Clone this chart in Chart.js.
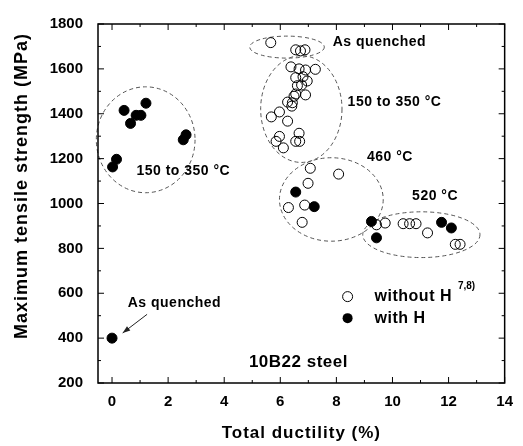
<!DOCTYPE html>
<html>
<head>
<meta charset="utf-8">
<script src="https://cdn.jsdelivr.net/npm/chart.js@4"></script>
<style>
  html, body { margin: 0; padding: 0; background: #fff; }
</style>
</head>
<body>
<canvas id="c" width="523" height="446"></canvas>
<script>
// total ductility (%) / maximum tensile strength (MPa)
const withoutHX = [5.66, 6.55, 6.72, 6.88,
  6.38, 6.67, 6.90, 7.25, 6.55, 6.81, 6.96, 6.61, 6.76, 6.55, 6.49, 6.90,
  6.26, 6.43, 6.41, 5.97, 5.68, 6.26, 5.97, 5.85, 6.11, 6.67, 6.55, 6.69,
  7.07, 8.08, 6.99, 6.29, 6.87, 6.78,
  9.43, 9.74, 10.38, 10.61, 10.84, 11.25, 12.24, 12.41];
const withoutHY = [1717, 1685, 1680, 1685,
  1609, 1600, 1595, 1598, 1561, 1565, 1546, 1525, 1528, 1488, 1478, 1484,
  1452, 1449, 1434, 1408, 1386, 1367, 1299, 1277, 1248, 1313, 1277, 1277,
  1157, 1131, 1090, 982, 993, 916,
  905, 913, 910, 910, 910, 869, 818, 818];

const withHX = [0.00, 0.02, 0.16, 0.43, 0.66, 0.86, 1.03, 1.21, 2.54, 2.64,
  6.55, 7.21, 9.25, 9.43, 11.75, 12.10];
const withHY = [400, 1163, 1197, 1415, 1357, 1393, 1393, 1447, 1284, 1306,
  1051, 986, 920, 847, 916, 891];

const xTicks = [0, 2, 4, 6, 8, 10, 12, 14];
const yTicks = [200, 400, 600, 800, 1000, 1200, 1400, 1600, 1800];

// dashed groups: centre and half-axes in data units
const groups = [
  { cx: 1.20, cy: 1284, rx: 1.76, ry: 236 },
  { cx: 6.24, cy: 1697, rx: 1.33, ry: 49 },
  { cx: 6.75, cy: 1421, rx: 1.45, ry: 238 },
  { cx: 7.82, cy: 1018, rx: 1.85, ry: 186 },
  { cx: 11.03, cy: 861, rx: 2.09, ry: 102 }
];

const notes = [
  { text: 'As quenched', x: 7.87, y: 1717, size: 14 },
  { text: '150 to 350 °C', x: 8.40, y: 1450, size: 14 },
  { text: '460 °C', x: 9.09, y: 1207, size: 14 },
  { text: '520 °C', x: 10.70, y: 1032, size: 14 },
  { text: '150 to 350 °C', x: 0.87, y: 1144, size: 14 },
  { text: 'As quenched', x: 0.56, y: 558, size: 14 },
  { text: '10B22 steel', x: 4.88, y: 292, size: 17 }
];

const FONT = '"Liberation Sans", Arial, Helvetica, sans-serif';

const toPts = (xs, ys) => xs.map((v, i) => ({ x: v, y: ys[i] }));

const decor = {
  id: 'decor',
  beforeDatasetsDraw(chart) {
    const { ctx, scales: { x, y } } = chart;
    ctx.save();
    ctx.setLineDash([4, 3]);
    ctx.strokeStyle = '#555';
    ctx.lineWidth = 1;
    groups.forEach(g => {
      const cx = x.getPixelForValue(g.cx), cy = y.getPixelForValue(g.cy);
      const rx = Math.abs(x.getPixelForValue(g.cx + g.rx) - cx);
      const ry = Math.abs(y.getPixelForValue(g.cy + g.ry) - cy);
      ctx.beginPath();
      ctx.ellipse(cx, cy, rx, ry, 0, 0, Math.PI * 2);
      ctx.stroke();
    });
    ctx.restore();
  },
  afterDraw(chart) {
    const { ctx, chartArea: a, scales: { x, y } } = chart;
    ctx.save();
    // frame
    ctx.strokeStyle = '#000';
    ctx.lineWidth = 1.5;
    ctx.strokeRect(a.left, a.top, a.right - a.left, a.bottom - a.top);
    // inward ticks on all four sides
    ctx.lineWidth = 1;
    ctx.beginPath();
    for (let v = 0; v <= 14; v += 1) {
      const px = x.getPixelForValue(v);
      const len = v % 2 === 0 ? 6 : 3;
      ctx.moveTo(px, a.bottom); ctx.lineTo(px, a.bottom - len);
      ctx.moveTo(px, a.top); ctx.lineTo(px, a.top + len);
    }
    for (let v = 200; v <= 1800; v += 100) {
      const py = y.getPixelForValue(v);
      const len = v % 200 === 0 ? 6 : 3;
      ctx.moveTo(a.left, py); ctx.lineTo(a.left + len, py);
      ctx.moveTo(a.right, py); ctx.lineTo(a.right - len, py);
    }
    ctx.stroke();

    // axis titles
    ctx.fillStyle = '#000';
    ctx.textAlign = 'center';
    ctx.textBaseline = 'middle';
    ctx.font = 'bold 17px ' + FONT;
    ctx.letterSpacing = '1px';
    ctx.fillText('Total ductility (%)', (a.left + a.right) / 2, 433);
    ctx.save();
    ctx.translate(22, 186);
    ctx.rotate(-Math.PI / 2);
    ctx.font = 'bold 18px ' + FONT;
    ctx.fillText('Maximum tensile strength (MPa)', 0, 0);
    ctx.restore();

    // annotations
    ctx.textAlign = 'left';
    ctx.letterSpacing = '0.5px';
    notes.forEach(n => {
      ctx.font = 'bold ' + n.size + 'px ' + FONT;
      ctx.fillText(n.text, x.getPixelForValue(n.x), y.getPixelForValue(n.y));
    });

    // arrow to the as-quenched point
    const x0 = x.getPixelForValue(1.25), y0 = y.getPixelForValue(506);
    const x1 = x.getPixelForValue(0.38), y1 = y.getPixelForValue(423);
    ctx.strokeStyle = '#222';
    ctx.lineWidth = 1;
    ctx.beginPath(); ctx.moveTo(x0, y0); ctx.lineTo(x1, y1); ctx.stroke();
    const ang = Math.atan2(y1 - y0, x1 - x0);
    ctx.beginPath();
    ctx.moveTo(x1, y1);
    ctx.lineTo(x1 - 8 * Math.cos(ang - 0.35), y1 - 8 * Math.sin(ang - 0.35));
    ctx.lineTo(x1 - 8 * Math.cos(ang + 0.35), y1 - 8 * Math.sin(ang + 0.35));
    ctx.closePath();
    ctx.fillStyle = '#222';
    ctx.fill();

    // legend
    const lx = x.getPixelForValue(8.4);
    const ly1 = y.getPixelForValue(585), ly2 = y.getPixelForValue(489);
    ctx.lineWidth = 1;
    ctx.strokeStyle = '#000';
    ctx.beginPath(); ctx.arc(lx, ly1, 5, 0, Math.PI * 2); ctx.stroke();
    ctx.fillStyle = '#000';
    ctx.beginPath(); ctx.arc(lx, ly2, 5, 0, Math.PI * 2); ctx.fill();
    ctx.font = 'bold 16px ' + FONT;
    ctx.fillText('without H', lx + 27, ly1);
    const w = ctx.measureText('without H').width;
    ctx.fillText('with H', lx + 27, ly2);
    ctx.font = 'bold 10px ' + FONT;
    ctx.letterSpacing = '0px';
    ctx.fillText('7,8)', lx + 27 + w + 6, ly1 - 10);
    ctx.restore();
  }
};

new Chart(document.getElementById('c'), {
  type: 'scatter',
  data: {
    datasets: [
      {
        label: 'with H',
        data: toPts(withHX, withHY),
        pointRadius: 5,
        pointBackgroundColor: '#000',
        pointBorderColor: '#000',
        pointBorderWidth: 1
      },
      {
        label: 'without H',
        data: toPts(withoutHX, withoutHY),
        pointRadius: 5,
        pointBackgroundColor: 'rgba(255,255,255,0)',
        pointBorderColor: '#000',
        pointBorderWidth: 1
      }
    ]
  },
  options: {
    responsive: false,
    animation: false,
    events: [],
    layout: { padding: { left: 0, top: 17, right: 9, bottom: 0 } },
    plugins: { legend: { display: false }, tooltip: { enabled: false } },
    scales: {
      x: {
        type: 'linear',
        min: -0.5,
        max: 14,
        afterBuildTicks: s => { s.ticks = xTicks.map(v => ({ value: v })); },
        afterFit: s => { s.height = 63; },
        grid: { display: false, drawTicks: false },
        border: { display: false },
        ticks: { padding: 10, color: '#000', callback: v => String(v),
          font: { family: FONT, size: 15, weight: 'bold' } }
      },
      y: {
        min: 200,
        max: 1800,
        afterBuildTicks: s => { s.ticks = yTicks.map(v => ({ value: v })); },
        afterFit: s => { s.width = 98; },
        grid: { display: false, drawTicks: false },
        border: { display: false },
        ticks: { padding: 15, color: '#000', callback: v => String(v),
          font: { family: FONT, size: 15, weight: 'bold' } }
      }
    }
  },
  plugins: [decor]
});
</script>
</body>
</html>
